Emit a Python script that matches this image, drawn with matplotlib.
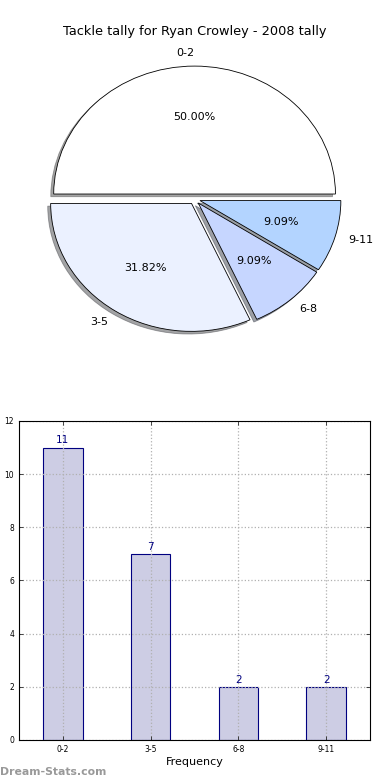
import matplotlib
matplotlib.use("Agg")
import matplotlib.pyplot as plt

categories = ["0-2", "3-5", "6-8", "9-11"]
counts = [11, 7, 2, 2]
pie_colors = ["#ffffff", "#ebf1ff", "#c6d6ff", "#b3d4ff"]
title = "Tackle tally for Ryan Crowley - 2008 tally"

fig = plt.figure(figsize=(3.9, 7.8), dpi=100)

# Pie chart
axp = fig.add_axes([0.0474, 0.5397, 0.903, 0.410])
wedges, texts, autotexts = axp.pie(
    counts, labels=categories, colors=pie_colors, explode=[0.04] * 4,
    autopct="%.2f%%", shadow=dict(ox=-0.015, oy=-0.015), startangle=0,
    wedgeprops=dict(edgecolor="black", linewidth=0.6),
    textprops=dict(fontsize=8))
axp.set_aspect("auto")
axp.set_xlim(-1.25, 1.25)
axp.set_ylim(-1.25, 1.25)
axp.set_title(title, fontsize=9.3, pad=3)

# Bar chart
axb = fig.add_axes([0.0487, 0.0513, 0.9, 0.409])
x = list(range(len(categories)))
bars = axb.bar(x, counts, width=0.45, color="#cdcde4", edgecolor="#000080", linewidth=0.8)
for xi, c in zip(x, counts):
    axb.annotate(str(c), (xi, c), xytext=(0, 1.5), textcoords="offset points",
                 ha="center", va="bottom", fontsize=7.5, color="#000080")
axb.set_xlim(-0.5, 3.5)
axb.set_ylim(0, 12)
axb.set_yticks([0, 2, 4, 6, 8, 10, 12])
axb.set_xticks(x)
axb.set_xticklabels(categories)
axb.tick_params(labelsize=5.5, direction="in", length=3, top=True, right=True, width=0.5)
axb.grid(True, linestyle=":", color="#b0b0b0", linewidth=0.9)
axb.set_axisbelow(False)
for b in bars:
    b.set_zorder(1)
for sp in axb.spines.values():
    sp.set_zorder(5)
axb.set_xlabel("Frequency", fontsize=8, labelpad=2)
axb.set_ylabel("Stat Amount", fontsize=8)
axb.yaxis.set_label_coords(-0.0456, 0.5)

fig.text(0.0, 0.004, "Dream-Stats.com", fontsize=7.8, color="#999999",
         weight="bold", ha="left", va="bottom")

fig.savefig("out.png", dpi=100)
